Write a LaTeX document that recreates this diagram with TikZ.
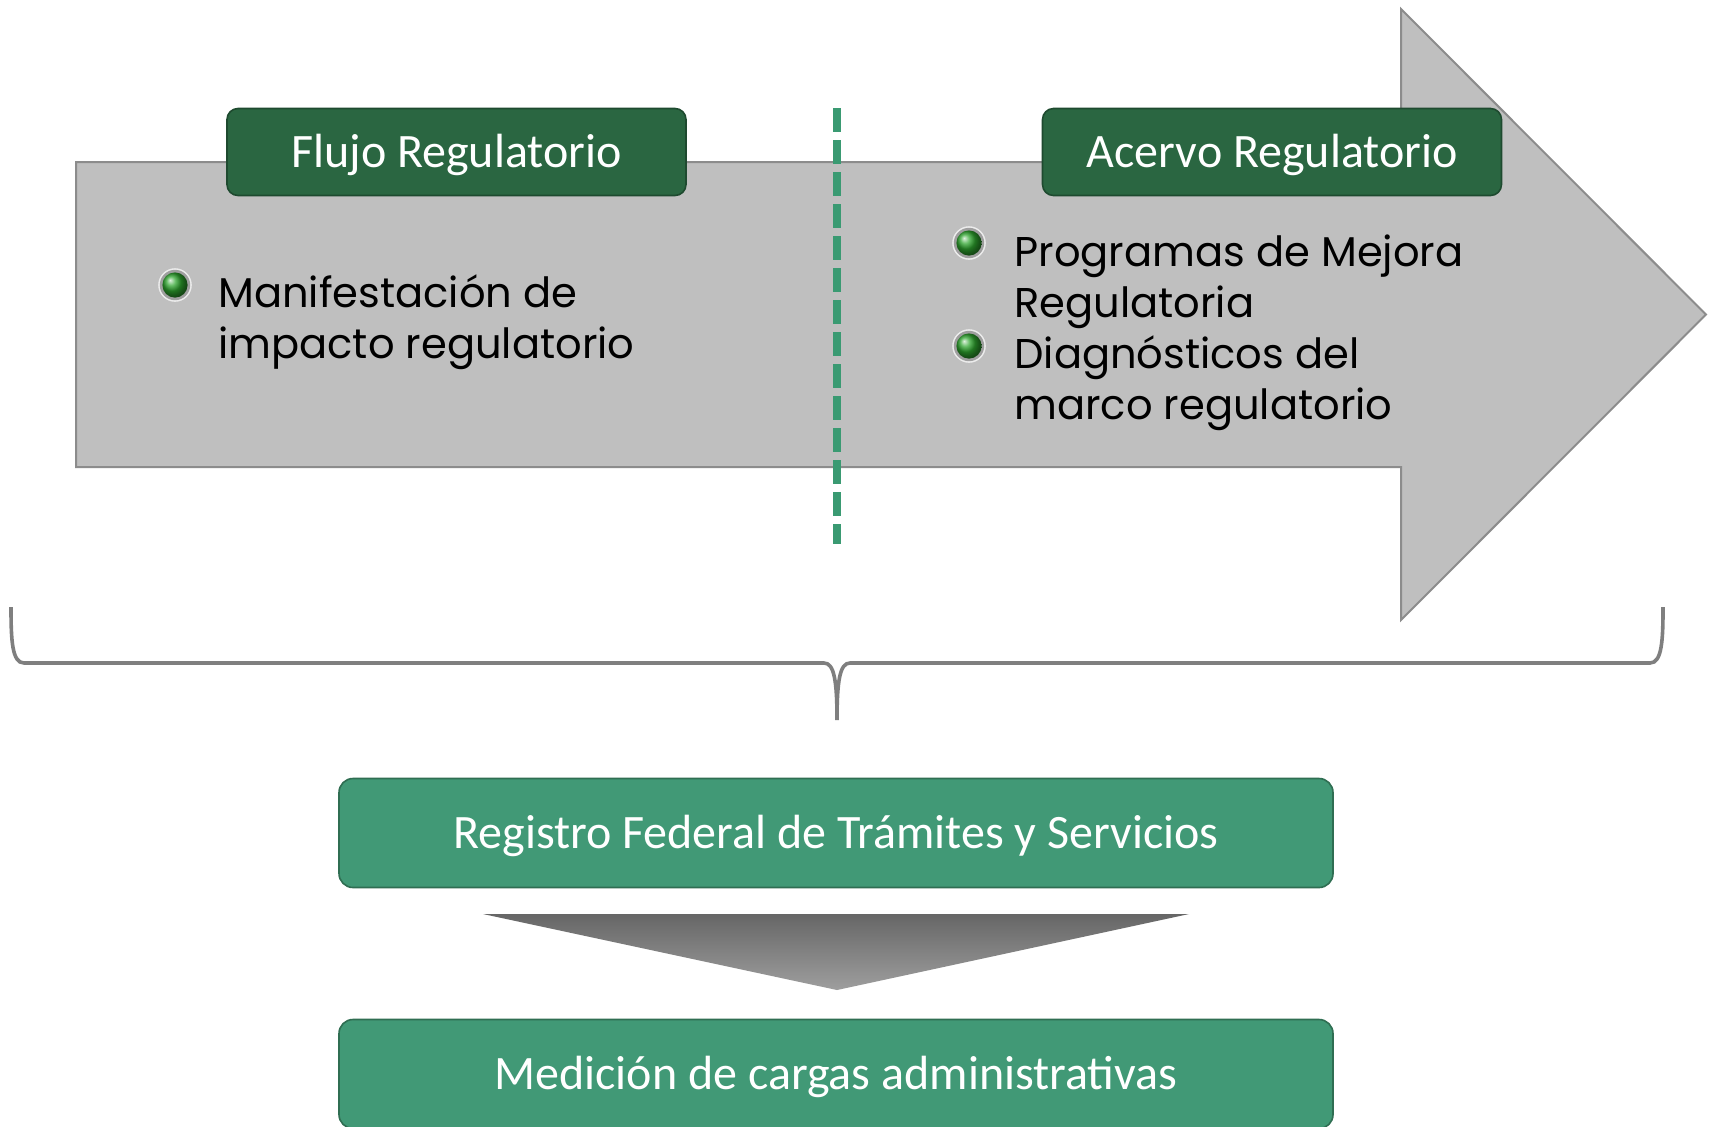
\documentclass[tikz,border=0pt]{standalone}
\usepackage{fontspec}
\newfontfamily\gothic{Poppins}
\newfontfamily\calib{Carlito}
\definecolor{arrowfill}{HTML}{BFBFBF}
\definecolor{arrowline}{HTML}{8C8C8C}
\definecolor{darkgreen}{HTML}{2A6641}
\definecolor{darkgreenline}{HTML}{1E4A2F}
\definecolor{midgreen}{HTML}{419976}
\definecolor{midgreenline}{HTML}{2F6E52}
\definecolor{dashgreen}{HTML}{3A9A72}
\definecolor{bracegray}{HTML}{7F7F7F}
\definecolor{ballgreen}{HTML}{2EA52E}
\begin{document}
\begin{tikzpicture}[x=0.5pt,y=-0.5pt,
  bigarrow/.style={fill=arrowfill,draw=arrowline,line width=1pt},
  titlebox/.style={rectangle,rounded corners=5.5pt,fill=darkgreen,draw=darkgreenline,line width=0.8pt,
    minimum width=229.5pt,minimum height=43.5pt,inner sep=0pt,text=white,text height=18pt,text depth=2.8pt,
    font=\calib\fontsize{24}{28}\selectfont},
  greenbox/.style={rectangle,rounded corners=7pt,fill=midgreen,draw=midgreenline,line width=0.8pt,
    minimum width=497pt,minimum height=54.5pt,inner sep=0pt,text=white,text height=18pt,text depth=2.8pt,
    font=\calib\fontsize{24}{28}\selectfont},
  itemtext/.style={anchor=base west,inner sep=0pt,font=\gothic\fontsize{20.8}{25}\selectfont,text=black},
  dashline/.style={draw=dashgreen,line width=3.8pt,dash pattern=on 12pt off 4pt},
  bracestyle/.style={draw=bracegray,line width=1.8pt},
]
\useasboundingbox (0,0) rectangle (1711,1126);
\fill[white] (0,0) rectangle (1711,1126);

% big arrow
\draw[bigarrow] (76,162) -- (1401,162) -- (1401,9) -- (1706,314.5) -- (1401,620) -- (1401,467) -- (76,467) -- cycle;

% dashed separator
\coordinate (dtop) at (837,108);
\coordinate (dbot) at (837,544);
\draw[dashline] (dtop) -- (dbot);

% title boxes
\node[titlebox] (flujo) at (456.5,152) {Flujo Regulatorio};
\node[titlebox] (acervo) at (1272,152) {Acervo Regulatorio};

% bullets
\newcommand{\gbullet}[1]{%
  \fill[white!85!gray] (#1) circle (8.4pt);
  \fill[gray!75] (#1) circle (7.6pt);
  \shade[ball color=ballgreen] (#1) circle (6.3pt);}
\coordinate (b1) at (175,285);
\coordinate (b2) at (969,243);
\coordinate (b3) at (969,346);
\gbullet{b1}
\gbullet{b2}
\gbullet{b3}

\node[itemtext] (l1) at (218,307) {Manifestación de};
\node[itemtext] (l2) at (218,358) {impacto regulatorio};
\node[itemtext] (r1) at (1014,266) {Programas de Mejora};
\node[itemtext] (r2) at (1014,317) {Regulatoria};
\node[itemtext] (r3) at (1014,368) {Diagnósticos del};
\node[itemtext] (r4) at (1014,419) {marco regulatorio};

% brace
\draw[bracestyle] (11,607) .. controls (11,640) and (12,663) .. (24,663) -- (824,663)
  .. controls (834,663) and (837,680) .. (837,720)
  .. controls (837,680) and (840,663) .. (850,663) -- (1650,663)
  .. controls (1662,663) and (1663,640) .. (1663,607);

% bottom boxes
\node[greenbox] (rfts) at (836,833) {Registro Federal de Trámites y Servicios};
\shade[top color=black!60,bottom color=black!38] (483,914) -- (1189,914) -- (837,990) -- cycle;
\node[greenbox] (mca) at (836,1074) {Medición de cargas administrativas};
\end{tikzpicture}
\end{document}
